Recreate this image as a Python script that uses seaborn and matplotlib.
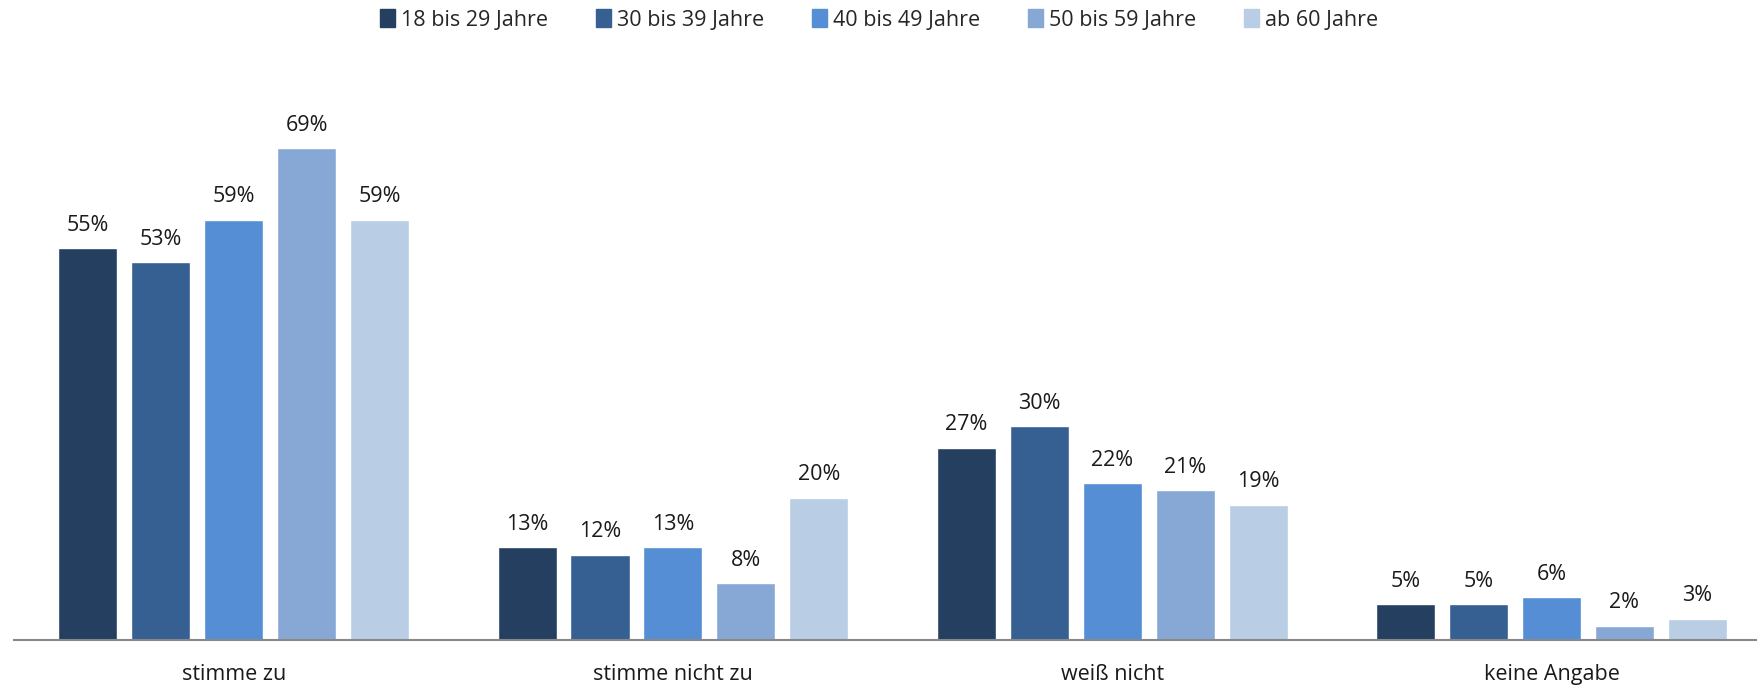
import seaborn as sns
import matplotlib.pyplot as plt
import matplotlib.patches as mpatches
import pandas as pd

categories = ["stimme zu", "stimme nicht zu", "weiß nicht", "keine Angabe"]
groups = ["18 bis 29 Jahre", "30 bis 39 Jahre", "40 bis 49 Jahre", "50 bis 59 Jahre", "ab 60 Jahre"]
values = {
    "18 bis 29 Jahre": [55, 13, 27, 5],
    "30 bis 39 Jahre": [53, 12, 30, 5],
    "40 bis 49 Jahre": [59, 13, 22, 6],
    "50 bis 59 Jahre": [69, 8, 21, 2],
    "ab 60 Jahre": [59, 20, 19, 3],
}
colors = ["#253F60", "#366092", "#558ED5", "#87A8D4", "#B9CDE5"]

rows = []
for g in groups:
    for c, v in zip(categories, values[g]):
        rows.append({"Antwort": c, "Alter": g, "Wert": v})
df = pd.DataFrame(rows)

sns.set_style("white")
plt.rcParams["font.family"] = ["Open Sans", "DejaVu Sans"]

fig = plt.figure(figsize=(17.58, 6.87), dpi=100)
ax = fig.add_axes([14 / 1758, 47 / 687, 1 - 14 / 1758, 540 / 687])

sns.barplot(data=df, x="Antwort", y="Wert", hue="Alter", order=categories,
            hue_order=groups, palette=colors, width=0.83, gap=0.19,
            saturation=1, legend=False, ax=ax)

for cont in ax.containers:
    ax.bar_label(cont, labels=[f"{int(v)}%" for v in cont.datavalues],
                 padding=9, fontsize=15.5, color="#1a1a1a")

ax.set_xlim(-0.5, 3.47)
ax.set_ylim(0, 75.8)
ax.set_xlabel("")
ax.set_ylabel("")
ax.set_yticks([])
ax.tick_params(axis="x", length=0, pad=17, labelsize=15.5, labelcolor="#1a1a1a")
for s in ["top", "right", "left"]:
    ax.spines[s].set_visible(False)
ax.spines["bottom"].set_color("#888888")
ax.spines["bottom"].set_linewidth(1.5)

handles = [mpatches.Patch(color=c, label=g) for c, g in zip(colors, groups)]
fig.legend(handles=handles, loc="center", bbox_to_anchor=(0.5, 1 - 20 / 687), ncol=5,
           frameon=False, fontsize=15.5, handlelength=0.7, handleheight=0.9,
           handletextpad=0.3, columnspacing=2.2)

fig.savefig("out.png", dpi=100)
